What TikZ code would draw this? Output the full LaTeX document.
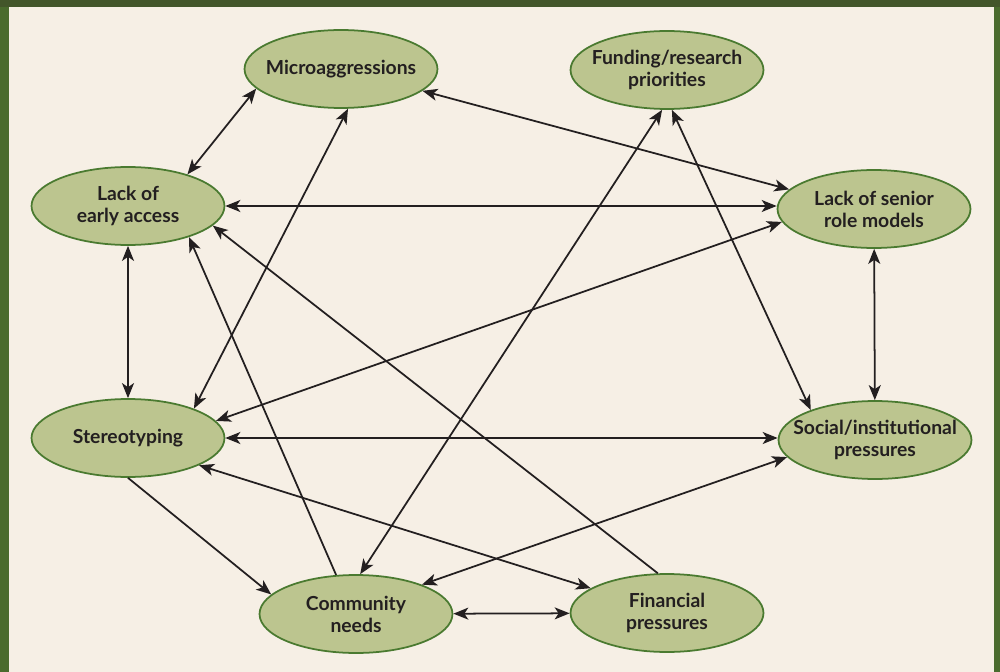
\documentclass[tikz,border=0pt]{standalone}
\usepackage{fontspec}
\setmainfont{Lato}
\usepackage{tikz}
\usetikzlibrary{arrows.meta,shapes.geometric}
\definecolor{bggreen}{HTML}{4A6B2D}
\definecolor{topgreen}{HTML}{43562A}
\definecolor{cream}{HTML}{F6EFE5}
\definecolor{olive}{HTML}{BCC58F}
\definecolor{rim}{HTML}{4A7A30}
\definecolor{ink}{HTML}{231F20}

\begin{document}
\begin{tikzpicture}[x=0.02cm, y=-0.02cm, % 1px = 0.02cm、y軸は下向き
    factor/.style={ellipse, draw=rim, fill=olive, line width=1pt, minimum width=3.86cm, minimum height=1.56cm, inner xsep=-14pt, inner ysep=0pt, align=center, text=ink, font=\bfseries\fontsize{11}{12.5}\selectfont}, % 楕円ノード
    link/.style={draw=ink, line width=1pt, {Stealth[length=0.3cm, width=0.24cm, inset=0.08cm]}-{Stealth[length=0.3cm, width=0.24cm, inset=0.08cm]}}, % 両矢印
    onelink/.style={link, -{Stealth[length=0.3cm, width=0.24cm, inset=0.08cm]}}] % 片矢印
    \fill[cream] (0,0) rectangle (1000,672); % 背景
    \useasboundingbox (0,0) rectangle (1000,672);
    \fill[bggreen] (0,0) rectangle (9,672); % 左の枠
    \fill[bggreen] (994,0) rectangle (1000,672); % 右の枠
    \fill[topgreen] (0,0) rectangle (1000,7); % 上の枠

    \node[factor] (micro) at (341,69) {Microaggressions};
    \node[factor] (funding) at (667,70) {Funding/research\\priorities};
    \node[factor] (early) at (128,206) {Lack of\\early access};
    \node[factor] (senior) at (874,209) {Lack of senior\\role models};
    \node[factor] (stereo) at (128,438) {Stereotyping};
    \node[factor] (social) at (875,440) {Social/institutional\\pressures};
    \node[factor] (community) at (356,614) {Community\\needs};
    \node[factor] (financial) at (667,613) {Financial\\pressures};

    \draw[link] (micro.193) -- (early.28);
    \draw[link] (micro.-15) -- (senior.167);
    \draw[link] (micro.-80) -- (stereo.24);
    \draw[link] (funding.-97) -- (community.84);
    \draw[link] (funding.-83) -- (social.155);
    \draw[link] (early.east) -- (senior.west |- early.east); % 水平
    \draw[link] (early) -- (stereo); % 垂直
    \draw[onelink] (community.117) -- (early.-27);
    \draw[onelink] (financial.103) -- (early.-13);
    \draw[link] (senior.-172) -- (stereo.11);
    \draw[link] (senior) -- (social);
    \draw[link] (stereo.east) -- (social.west |- stereo.east);
    \draw[link] (stereo.-21) -- (financial.162);
    \draw[onelink] (stereo.south) -- (community.167);
    \draw[link] (community.24) -- (social.-169);
    \draw[link] (community) -- (financial);
\end{tikzpicture}
\end{document}
